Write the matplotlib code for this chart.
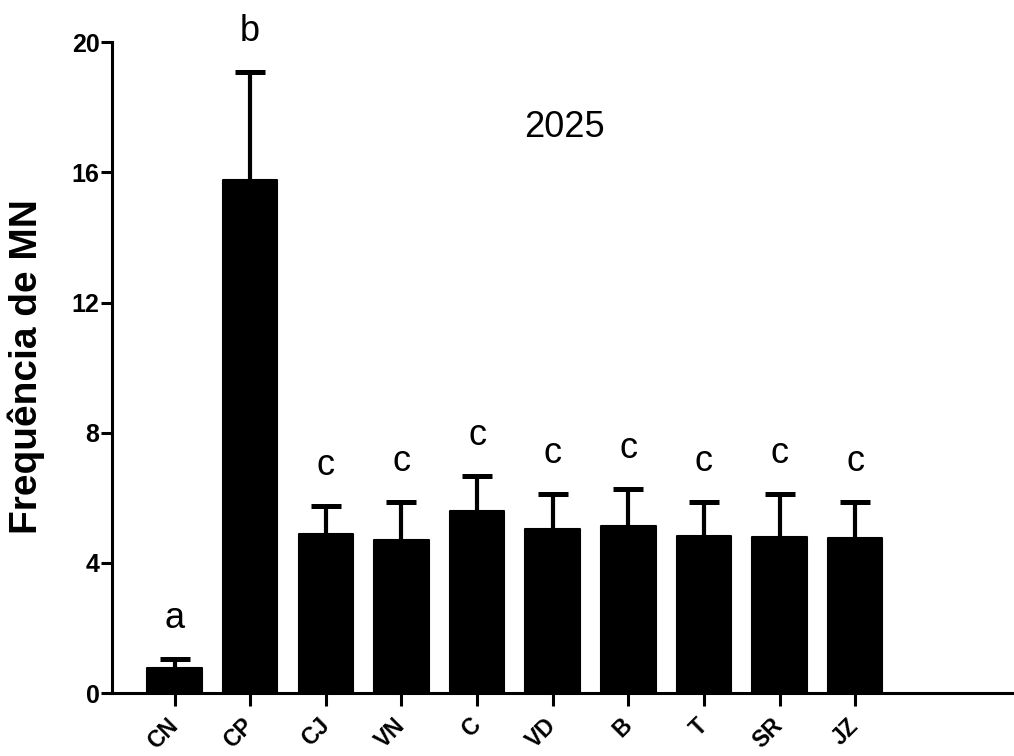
import matplotlib
matplotlib.use("Agg")
import matplotlib.pyplot as plt

plt.rcParams['font.family'] = ['Liberation Sans', 'DejaVu Sans']

groups = ["CN", "CP", "CJ", "VN", "C", "VD", "B", "T", "SR", "JZ"]
means = [0.78, 15.78, 4.90, 4.70, 5.60, 5.03, 5.14, 4.83, 4.79, 4.76]
upper = [1.05, 19.08, 5.75, 5.87, 6.67, 6.12, 6.28, 5.88, 6.12, 5.86]
letters = ["a", "b", "c", "c", "c", "c", "c", "c", "c", "c"]
errors = [u - m for u, m in zip(upper, means)]

fig = plt.figure(figsize=(10.14, 7.56), dpi=100)
ax = fig.add_axes([0.1105, 0.0833, 0.8895, 0.9167])

x = list(range(len(groups)))
ax.bar(x, means, width=0.72, color="black", edgecolor="black", linewidth=1.5,
       joinstyle="round", zorder=2)
eb = ax.errorbar(x, means, yerr=[[0] * len(means), errors], fmt="none",
                 ecolor="black", elinewidth=3, capsize=10.5, capthick=3.6,
                 zorder=1)
# only the upper whisker is shown
eb[1][0].set_visible(False)

for xi, u, lab in zip(x, upper, letters):
    ax.text(xi, u + 0.95, lab, ha="center", va="baseline", fontsize=26)

ax.text(5.15, 17.1, "2025", ha="center", va="baseline", fontsize=26)

ax.set_xlim(-0.826, 11.1)
ax.set_ylim(0, 21.3)
ax.set_yticks([0, 4, 8, 12, 16, 20])
ax.set_xticks(x)
ax.set_xticklabels(groups, rotation=45, ha="right", va="center",
                   rotation_mode="anchor", fontsize=16.5, fontweight="bold")
for lbl in ax.get_yticklabels():
    lbl.set_fontsize(18)
    lbl.set_fontweight("bold")

ax.spines["top"].set_visible(False)
ax.spines["right"].set_visible(False)
ax.spines["left"].set_bounds(0, 20)
ax.spines["left"].set_linewidth(2.2)
ax.spines["bottom"].set_linewidth(2.2)
ax.tick_params(axis="y", direction="out", length=8, width=2.2, pad=1)
ax.tick_params(axis="x", direction="out", length=9, width=2.2, pad=12)

ax.set_ylabel("Frequência de MN", fontsize=28, fontweight="bold")
ax.yaxis.set_label_coords(-0.074, 0.471)

fig.savefig("out.png", dpi=100)
